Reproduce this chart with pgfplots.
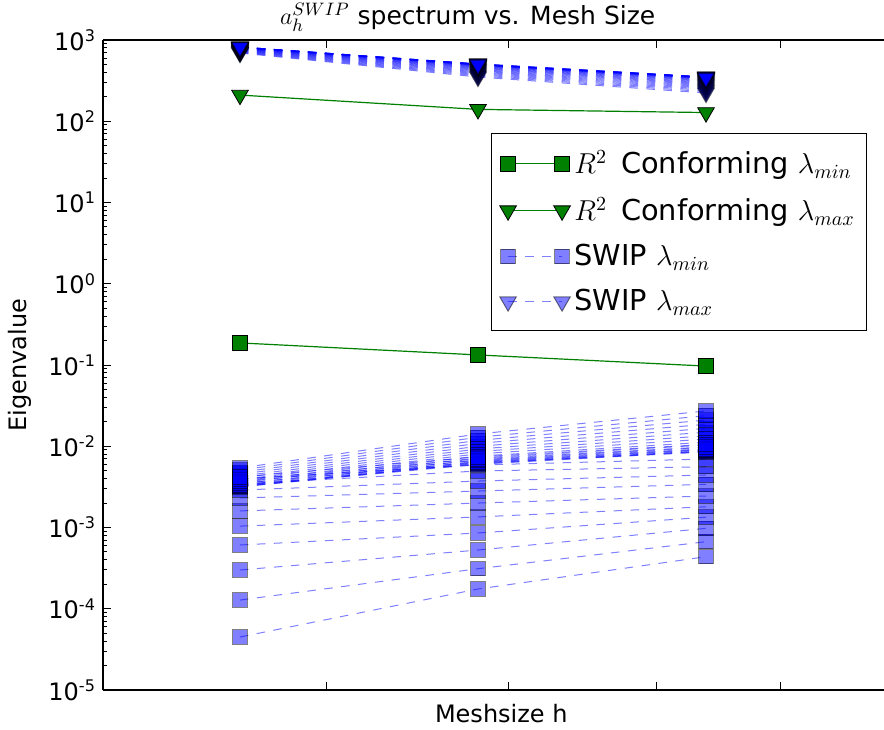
\documentclass[border=0pt]{standalone}
\usepackage{pgfplots}
\pgfplotsset{compat=1.18}
\usepackage{pgfplotstable}
\usepackage{fontspec}
\setmainfont{DejaVu Sans}
\definecolor{mplgreen}{RGB}{0,128,0}

% SWIP lambda_min, one column per penalty value
\pgfplotstableread{
x s1 s2 s3 s4 s5 s6 s7 s8 s9 s10 s11 s12 s13 s14 s15 s16 s17 s18 s19 s20 s21 s22 s23 s24 s25 s26 s27 s28 s29 s30
240 4.49e-5 1.28e-4 3.00e-4 6.09e-4 1.04e-3 1.60e-3 2.31e-3 2.89e-3 3.43e-3 3.95e-3 3.15e-3 3.19e-3 3.25e-3 3.34e-3 3.45e-3 3.58e-3 3.73e-3 3.90e-3 4.09e-3 4.29e-3 4.53e-3 4.79e-3 5.09e-3 5.40e-3 3.2e-3 3.3e-3 3.5e-3 3.7e-3 3.9e-3 4.2e-3
478 1.75e-4 3.11e-4 5.28e-4 8.56e-4 1.35e-3 2.00e-3 2.81e-3 3.73e-3 4.96e-3 5.88e-3 6.22e-3 6.33e-3 6.53e-3 6.81e-3 7.17e-3 7.56e-3 8.05e-3 8.62e-3 9.25e-3 9.99e-3 1.084e-2 1.18e-2 1.29e-2 1.415e-2 6.0e-3 6.1e-3 6.4e-3 6.7e-3 7.0e-3 7.4e-3
706 4.37e-4 6.69e-4 9.77e-4 1.34e-3 1.80e-3 2.44e-3 3.40e-3 4.43e-3 5.60e-3 6.97e-3 8.49e-3 8.71e-3 9.12e-3 9.65e-3 1.036e-2 1.121e-2 1.225e-2 1.345e-2 1.489e-2 1.659e-2 1.863e-2 2.10e-2 2.38e-2 2.72e-2 8.6e-3 8.8e-3 9.0e-3 9.3e-3 9.8e-3 1.05e-2
}\swipmin

% SWIP lambda_max
\pgfplotstableread{
x s1 s2 s3 s4 s5 s6 s7 s8 s9 s10 s11 s12 s13 s14 s15 s16 s17 s18 s19 s20 s21 s22 s23 s24 s25 s26 s27 s28 s29 s30
240 691.8 701.8 711.6 721.1 730.2 738.8 747.2 755.2 762.8 770.0 776.7 783.0 788.8 794.1 799.0 803.4 807.2 810.6 813.5 815.9 817.6 818.9 819.8 820.0 815 818 819 820 816 812
478 350.4 361.6 372.6 383.4 393.9 404.2 414.2 423.8 433.1 441.9 450.3 458.1 465.6 472.5 478.7 484.4 489.5 494.0 497.8 501.0 503.4 505.2 506.2 506.6 500 504 506 506 498 492
706 222.7 231.4 240.2 248.7 257.2 265.5 273.5 281.4 289.0 296.2 303.2 309.7 316.0 321.7 327.0 331.8 336.1 339.8 343.0 345.7 347.8 349.3 350.2 350.4 346 349 350 350 344 338
}\swipmax

\pgfplotsset{
  greenmin/.style={mplgreen, line width=0.6pt, mark=square*, mark size=3.6pt,
    mark options={solid, fill=mplgreen, draw=black, line width=0.4pt}},
  greenmax/.style={mplgreen, line width=0.6pt, mark=triangle*, mark size=4.8pt,
    mark options={solid, rotate=180, fill=mplgreen, draw=black, line width=0.4pt}},
  swipmin/.style={blue, opacity=0.5, line width=0.5pt, dash pattern=on 4.25pt off 4.25pt,
    mark=square*, mark size=3.6pt,
    mark options={solid, fill=blue, draw=black, line width=0.5pt, opacity=0.5}},
  swipmax/.style={blue, opacity=0.5, line width=0.5pt, dash pattern=on 4.25pt off 4.25pt,
    mark=triangle*, mark size=4.8pt,
    mark options={solid, rotate=180, fill=blue, draw=black, line width=0.5pt, opacity=0.5}},
}

\begin{document}
\begin{tikzpicture}
\begin{axis}[
  scale only axis,
  width=390.5pt, height=325pt,
  xmin=103, xmax=884,
  ymode=log, ymin=1e-5, ymax=1e3,
  axis x line=box, axis y line*=left,
  x axis line style={-}, y axis line style={-},
  axis line style={line width=0.6pt},
  xtick={326,508,656,780}, xticklabels={},
  ytick={1e-5,1e-4,1e-3,1e-2,1e-1,1,10,100,1000},
  yticklabels={10\textsuperscript{-5},10\textsuperscript{-4},10\textsuperscript{-3},10\textsuperscript{-2},10\textsuperscript{-1},10\textsuperscript{0},10\textsuperscript{1},10\textsuperscript{2},10\textsuperscript{3}},
  tick align=inside,
  major tick length=4pt, minor tick length=2pt,
  tick style={black, line width=0.5pt},
  ticklabel style={font=\fontsize{12}{14}\selectfont},
  title={$a_h^{SWIP}$ spectrum vs. Mesh Size},
  every axis title/.style={at={(axis description cs:0.467,1.0246)}, anchor=base, font=\fontsize{12.5}{14}\selectfont},
  xlabel={Meshsize h},
  xlabel style={at={(axis description cs:0.51,-0.05)}, anchor=base, font=\fontsize{12}{14}\selectfont},
  ylabel={Eigenvalue},
  every axis y label/.style={at={(axis description cs:-0.1063,0.5)}, rotate=90, anchor=center, font=\fontsize{12}{14}\selectfont},
  legend style={at={(0.497,0.857)}, anchor=north west, font=\fontsize{14.4}{17}\selectfont,
    draw=black, line width=0.6pt, fill=white, inner xsep=4pt, inner ysep=6.5pt, row sep=6.3pt},
  legend cell align=left,
  legend image code/.code={\draw[#1, mark repeat=2, mark phase=1] plot coordinates {(0pt,0pt) (13.5pt,0pt) (27pt,0pt)};},
]
\addplot[greenmin, forget plot] coordinates {(240,0.187) (478,0.133) (706,0.097)};
\addplot[greenmax, forget plot] coordinates {(240,210) (478,140) (706,128)};
\pgfplotsinvokeforeach{1,...,30}{
  \addplot[swipmin, forget plot] table[x=x, y=s#1] {\swipmin};
  \addplot[swipmax, forget plot] table[x=x, y=s#1] {\swipmax};
}
\addlegendimage{greenmin}
\addlegendentry{$R^2$\,\ Conforming $\lambda_{min}$}
\addlegendimage{greenmax}
\addlegendentry{$R^2$\,\ Conforming $\lambda_{max}$}
\addlegendimage{swipmin}
\addlegendentry{SWIP $\lambda_{min}$}
\addlegendimage{swipmax}
\addlegendentry{SWIP $\lambda_{max}$}
\coordinate (SW) at (rel axis cs:0,0);
\coordinate (NE) at (rel axis cs:1,1);
\end{axis}
\pgfresetboundingbox
\path[use as bounding box] ([xshift=-51.5pt,yshift=-19.5pt]SW) rectangle ([yshift=20pt]NE);
\end{tikzpicture}
\end{document}
